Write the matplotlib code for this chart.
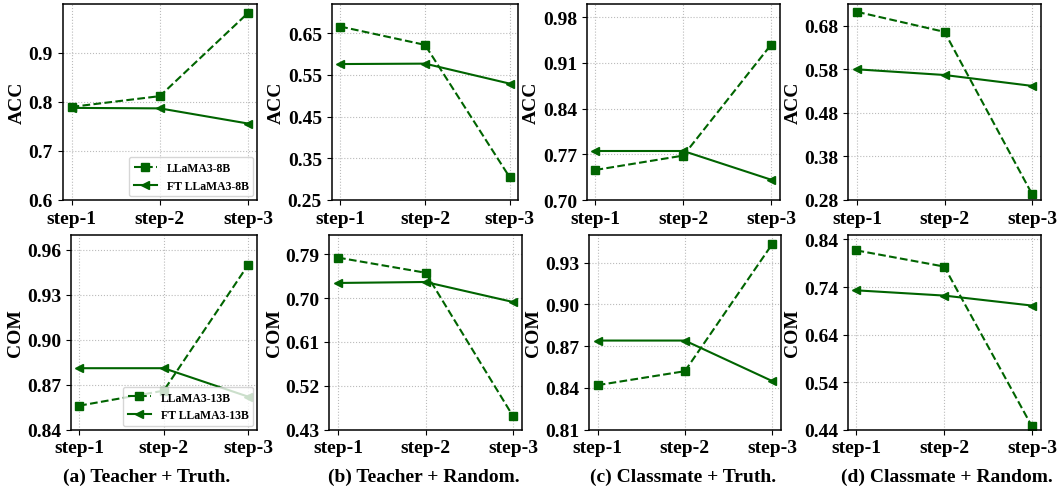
import matplotlib
matplotlib.use("Agg")
import matplotlib.pyplot as plt
from matplotlib.ticker import FormatStrFormatter

plt.rcParams['font.family'] = 'Liberation Serif'
plt.rcParams['font.weight'] = 'bold'

steps = ['step-1', 'step-2', 'step-3']
captions = ['(a) Teacher + Truth.', '(b) Teacher + Random.',
            '(c) Classmate + Truth.', '(d) Classmate + Random.']

# ACC (top row), LLaMA3-8B vs FT LLaMA3-8B
acc_base_a = [0.790, 0.812, 0.982]
acc_ft_a = [0.788, 0.787, 0.756]
acc_base_b = [0.666, 0.622, 0.304]
acc_ft_b = [0.576, 0.577, 0.529]
acc_base_c = [0.746, 0.768, 0.938]
acc_ft_c = [0.775, 0.775, 0.731]
acc_base_d = [0.712, 0.666, 0.294]
acc_ft_d = [0.580, 0.567, 0.542]

# COM (bottom row), LLaMA3-13B vs FT LLaMA3-13B
com_base_a = [0.856, 0.866, 0.950]
com_ft_a = [0.881, 0.881, 0.862]
com_base_b = [0.783, 0.752, 0.458]
com_ft_b = [0.731, 0.733, 0.692]
com_base_c = [0.842, 0.852, 0.943]
com_ft_c = [0.874, 0.874, 0.845]
com_base_d = [0.817, 0.783, 0.447]
com_ft_d = [0.733, 0.722, 0.701]

acc_ticks = [[0.6, 0.7, 0.8, 0.9], [0.25, 0.35, 0.45, 0.55, 0.65],
             [0.70, 0.77, 0.84, 0.91, 0.98], [0.28, 0.38, 0.48, 0.58, 0.68]]
acc_lims = [(0.6, 1.0), (0.25, 0.72), (0.70, 1.0), (0.28, 0.73)]
com_ticks = [[0.84, 0.87, 0.90, 0.93, 0.96], [0.43, 0.52, 0.61, 0.70, 0.79],
             [0.81, 0.84, 0.87, 0.90, 0.93], [0.44, 0.54, 0.64, 0.74, 0.84]]
com_lims = [(0.84, 0.97), (0.43, 0.83), (0.81, 0.95), (0.44, 0.85)]

W, H = 1060, 489
fig = plt.figure(figsize=(W / 100, H / 100), dpi=100)

top_x = [(62.7, 257), (331.7, 518.3), (586.7, 780), (848.3, 1040.7)]
bot_x = [(70.7, 256.7), (329.3, 521.7), (589, 780.7), (847.7, 1040.7)]
green = '#006400'


def draw(ax, base, ft, lims, ticks, ylabel, fmt, names=None):
    x = range(len(steps))
    ax.plot(x, base, '--', marker='s', color=green, lw=1.5, ms=6,
            label=names[0] if names else None)
    ax.plot(x, ft, '-', marker='<', color=green, lw=1.5, ms=6,
            label=names[1] if names else None)
    ax.set_xticks(list(x))
    ax.set_xticklabels(steps)
    ax.set_ylim(*lims)
    ax.set_yticks(ticks)
    ax.yaxis.set_major_formatter(FormatStrFormatter(fmt))
    ax.tick_params(labelsize=14)
    for lbl in ax.get_xticklabels() + ax.get_yticklabels():
        lbl.set_fontweight('bold')
    ax.grid(True, linestyle=':', color='#bbbbbb', lw=0.8)
    ax.set_ylabel(ylabel, fontsize=14, fontweight='bold', labelpad=2)
    for s in ax.spines.values():
        s.set_linewidth(1.1)
    if names:
        ax.legend(loc='lower right', prop={'size': 8.5, 'weight': 'bold'},
                  borderaxespad=0.3)


accs = [(acc_base_a, acc_ft_a), (acc_base_b, acc_ft_b),
        (acc_base_c, acc_ft_c), (acc_base_d, acc_ft_d)]
coms = [(com_base_a, com_ft_a), (com_base_b, com_ft_b),
        (com_base_c, com_ft_c), (com_base_d, com_ft_d)]
caption_x = [147, 424, 683, 947]

for i in range(4):
    l, r = top_x[i]
    ax = fig.add_axes([l / W, (H - 201) / H, (r - l) / W, 196 / H])
    draw(ax, accs[i][0], accs[i][1], acc_lims[i], acc_ticks[i], 'ACC',
         '%.1f' if i == 0 else '%.2f',
         ['LLaMA3-8B', 'FT LLaMA3-8B'] if i == 0 else None)

    l, r = bot_x[i]
    ax = fig.add_axes([l / W, (H - 430.7) / H, (r - l) / W, 195 / H])
    draw(ax, coms[i][0], coms[i][1], com_lims[i], com_ticks[i], 'COM',
         '%.2f', ['LLaMA3-13B', 'FT LLaMA3-13B'] if i == 0 else None)

    fig.text(caption_x[i] / W, 1 - 477 / H, captions[i], ha='center',
             va='center', fontsize=14, fontweight='bold')

fig.savefig('out.png', dpi=100)
